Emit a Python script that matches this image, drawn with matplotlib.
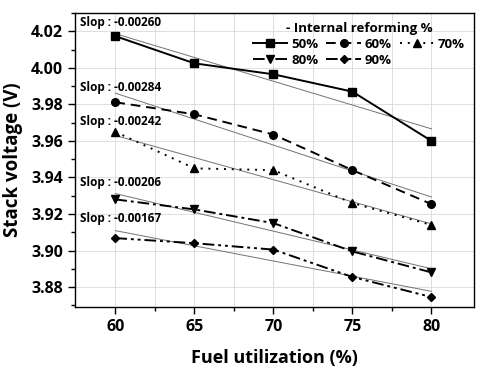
import numpy as np
import matplotlib.pyplot as plt

plt.rcParams['font.family'] = ['Open Sans', 'DejaVu Sans']

fuel = [60, 65, 70, 75, 80]
labels = ['50%', '60%', '70%', '80%', '90%']
v50 = [4.0174, 4.0025, 3.9965, 3.9870, 3.9600]
v60 = [3.9812, 3.9746, 3.9635, 3.9440, 3.9254]
v70 = [3.9650, 3.9450, 3.9440, 3.9260, 3.9140]
v80 = [3.9280, 3.9225, 3.9150, 3.8995, 3.8880]
v90 = [3.9068, 3.9040, 3.9005, 3.8855, 3.8745]
slope_text = ['-0.00260', '-0.00284', '-0.00242', '-0.00206', '-0.00167']
text_y = [4.0249, 3.9894, 3.9708, 3.9374, 3.9177]

series = [v50, v60, v70, v80, v90]
styles = [('-', 's'), ((0, (5, 3)), 'o'), ((0, (1, 3)), '^'),
          ((0, (6, 2, 1.5, 2)), 'v'), ((0, (6, 2, 1.5, 2, 1.5, 2)), 'D')]

fig = plt.figure(figsize=(4.78, 3.75), dpi=100)
ax = fig.add_axes([0.157, 0.181, 0.835, 0.784])

x = np.array(fuel)
handles = []
for v, (ls, mk), lab in zip(series, styles, labels):
    p = np.polyfit(x, v, 1)
    ax.plot(x, np.polyval(p, x), color='0.45', lw=0.7, zorder=2)
    h, = ax.plot(x, v, ls=ls, marker=mk, color='black', lw=1.4,
                 markersize=5.5 if mk != 'D' else 4.5, label=lab, zorder=3)
    handles.append(h)

for s, ty in zip(slope_text, text_y):
    ax.text(57.75, ty, 'Slop : ' + s, fontsize=8.5, fontweight='bold', va='center')

ax.set_xlim(57.45, 82.7)
ax.set_ylim(3.869, 4.0298)
ax.set_xticks(fuel)
ax.set_xticks([62.5, 67.5, 72.5, 77.5], minor=True)
ax.set_yticks(np.arange(3.88, 4.021, 0.02))
ax.set_yticks(np.arange(3.87, 4.03, 0.02), minor=True)
ax.yaxis.set_major_formatter(plt.FormatStrFormatter('%.2f'))
ax.grid(True, which='major', color='0.85', lw=0.6)
ax.xaxis.grid(True, which='minor', color='0.85', lw=0.6)
ax.set_axisbelow(True)
ax.tick_params(which='major', direction='out', length=5, width=1, labelsize=11.5)
ax.tick_params(which='minor', direction='out', length=3, width=1)
for t in ax.get_xticklabels() + ax.get_yticklabels():
    t.set_fontweight('bold')
for sp in ax.spines.values():
    sp.set_linewidth(1.0)

ax.set_xlabel('Fuel utilization (%)', fontsize=13, fontweight='bold', labelpad=10)
ax.set_ylabel('Stack voltage (V)', fontsize=13.5, fontweight='bold', labelpad=6)

# row-wise order in a 3 column legend
order = [0, 3, 1, 4, 2]
leg = ax.legend([handles[i] for i in order], [labels[i] for i in order],
                loc='upper right', ncol=3, frameon=False, fontsize=9.5,
                title='- Internal reforming %', title_fontsize=9.5,
                handlelength=2.6, handletextpad=0.3, columnspacing=0.6,
                borderaxespad=0.3, labelspacing=0.2)
leg.get_title().set_fontweight('bold')
for t in leg.get_texts():
    t.set_fontweight('bold')

fig.savefig('out.png', dpi=100)
